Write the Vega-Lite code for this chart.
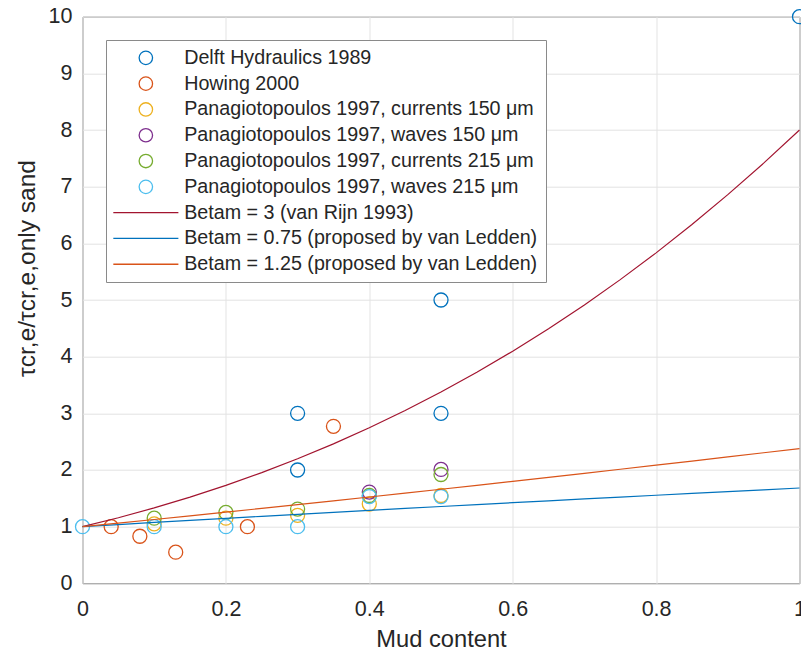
{
  "$schema": "https://vega.github.io/schema/vega-lite/v6.json",
  "autosize": "none",
  "width": 717,
  "height": 566.6,
  "padding": {"left": 82.5, "top": 16.7, "right": 1.5, "bottom": 69.7},
  "background": "white",
  "config": {
    "font": "Liberation Sans",
    "view": {"stroke": "#6e6e6e", "strokeWidth": 1},
    "axis": {
      "domain": false,
      "ticks": false,
      "grid": true,
      "gridColor": "#e3e3e3",
      "gridWidth": 1,
      "labelColor": "#262626",
      "titleColor": "#262626",
      "labelFontSize": 21.5,
      "titleFontSize": 23.7,
      "titleFontWeight": "normal",
      "labelFlush": false,
      "labelOverlap": false
    }
  },
  "datasets": {
    "pts": [
      {"x": 0.3, "y": 2, "series": "Delft Hydraulics 1989"},
      {"x": 0.3, "y": 3, "series": "Delft Hydraulics 1989"},
      {"x": 0.5, "y": 3, "series": "Delft Hydraulics 1989"},
      {"x": 0.5, "y": 5, "series": "Delft Hydraulics 1989"},
      {"x": 1.0, "y": 10, "series": "Delft Hydraulics 1989"},
      {"x": 0.04, "y": 1.0, "series": "Howing 2000"},
      {"x": 0.08, "y": 0.83, "series": "Howing 2000"},
      {"x": 0.13, "y": 0.55, "series": "Howing 2000"},
      {"x": 0.23, "y": 1.0, "series": "Howing 2000"},
      {"x": 0.35, "y": 2.77, "series": "Howing 2000"},
      {"x": 0.1, "y": 1.05, "series": "Panagiotopoulos 1997, currents 150 μm"},
      {"x": 0.2, "y": 1.15, "series": "Panagiotopoulos 1997, currents 150 μm"},
      {"x": 0.3, "y": 1.2, "series": "Panagiotopoulos 1997, currents 150 μm"},
      {"x": 0.4, "y": 1.4, "series": "Panagiotopoulos 1997, currents 150 μm"},
      {"x": 0.5, "y": 1.55, "series": "Panagiotopoulos 1997, currents 150 μm"},
      {"x": 0.4, "y": 1.61, "series": "Panagiotopoulos 1997, waves 150 μm"},
      {"x": 0.5, "y": 2.01, "series": "Panagiotopoulos 1997, waves 150 μm"},
      {"x": 0.1, "y": 1.15, "series": "Panagiotopoulos 1997, currents 215 μm"},
      {"x": 0.2, "y": 1.25, "series": "Panagiotopoulos 1997, currents 215 μm"},
      {"x": 0.3, "y": 1.31, "series": "Panagiotopoulos 1997, currents 215 μm"},
      {"x": 0.4, "y": 1.55, "series": "Panagiotopoulos 1997, currents 215 μm"},
      {"x": 0.5, "y": 1.92, "series": "Panagiotopoulos 1997, currents 215 μm"},
      {"x": 0.0, "y": 1.0, "series": "Panagiotopoulos 1997, waves 215 μm"},
      {"x": 0.1, "y": 1.0, "series": "Panagiotopoulos 1997, waves 215 μm"},
      {"x": 0.2, "y": 1.0, "series": "Panagiotopoulos 1997, waves 215 μm"},
      {"x": 0.3, "y": 1.0, "series": "Panagiotopoulos 1997, waves 215 μm"},
      {"x": 0.4, "y": 1.53, "series": "Panagiotopoulos 1997, waves 215 μm"},
      {"x": 0.5, "y": 1.53, "series": "Panagiotopoulos 1997, waves 215 μm"}
    ],
    "curves": [
      {"x": 0.0, "y": 1.0, "series": "Betam = 3 (van Rijn 1993)"},
      {"x": 0.05, "y": 1.1576, "series": "Betam = 3 (van Rijn 1993)"},
      {"x": 0.1, "y": 1.331, "series": "Betam = 3 (van Rijn 1993)"},
      {"x": 0.15, "y": 1.5209, "series": "Betam = 3 (van Rijn 1993)"},
      {"x": 0.2, "y": 1.728, "series": "Betam = 3 (van Rijn 1993)"},
      {"x": 0.25, "y": 1.9531, "series": "Betam = 3 (van Rijn 1993)"},
      {"x": 0.3, "y": 2.197, "series": "Betam = 3 (van Rijn 1993)"},
      {"x": 0.35, "y": 2.4604, "series": "Betam = 3 (van Rijn 1993)"},
      {"x": 0.4, "y": 2.744, "series": "Betam = 3 (van Rijn 1993)"},
      {"x": 0.45, "y": 3.0486, "series": "Betam = 3 (van Rijn 1993)"},
      {"x": 0.5, "y": 3.375, "series": "Betam = 3 (van Rijn 1993)"},
      {"x": 0.55, "y": 3.7239, "series": "Betam = 3 (van Rijn 1993)"},
      {"x": 0.6, "y": 4.096, "series": "Betam = 3 (van Rijn 1993)"},
      {"x": 0.65, "y": 4.4921, "series": "Betam = 3 (van Rijn 1993)"},
      {"x": 0.7, "y": 4.913, "series": "Betam = 3 (van Rijn 1993)"},
      {"x": 0.75, "y": 5.3594, "series": "Betam = 3 (van Rijn 1993)"},
      {"x": 0.8, "y": 5.832, "series": "Betam = 3 (van Rijn 1993)"},
      {"x": 0.85, "y": 6.3316, "series": "Betam = 3 (van Rijn 1993)"},
      {"x": 0.9, "y": 6.859, "series": "Betam = 3 (van Rijn 1993)"},
      {"x": 0.95, "y": 7.4149, "series": "Betam = 3 (van Rijn 1993)"},
      {"x": 1.0, "y": 8.0, "series": "Betam = 3 (van Rijn 1993)"},
      {"x": 0.0, "y": 1.0, "series": "Betam = 0.75 (proposed by van Ledden)"},
      {"x": 0.05, "y": 1.0373, "series": "Betam = 0.75 (proposed by van Ledden)"},
      {"x": 0.1, "y": 1.0741, "series": "Betam = 0.75 (proposed by van Ledden)"},
      {"x": 0.15, "y": 1.1105, "series": "Betam = 0.75 (proposed by van Ledden)"},
      {"x": 0.2, "y": 1.1465, "series": "Betam = 0.75 (proposed by van Ledden)"},
      {"x": 0.25, "y": 1.1822, "series": "Betam = 0.75 (proposed by van Ledden)"},
      {"x": 0.3, "y": 1.2175, "series": "Betam = 0.75 (proposed by van Ledden)"},
      {"x": 0.35, "y": 1.2524, "series": "Betam = 0.75 (proposed by van Ledden)"},
      {"x": 0.4, "y": 1.287, "series": "Betam = 0.75 (proposed by van Ledden)"},
      {"x": 0.45, "y": 1.3214, "series": "Betam = 0.75 (proposed by van Ledden)"},
      {"x": 0.5, "y": 1.3554, "series": "Betam = 0.75 (proposed by van Ledden)"},
      {"x": 0.55, "y": 1.3891, "series": "Betam = 0.75 (proposed by van Ledden)"},
      {"x": 0.6, "y": 1.4226, "series": "Betam = 0.75 (proposed by van Ledden)"},
      {"x": 0.65, "y": 1.4558, "series": "Betam = 0.75 (proposed by van Ledden)"},
      {"x": 0.7, "y": 1.4888, "series": "Betam = 0.75 (proposed by van Ledden)"},
      {"x": 0.75, "y": 1.5215, "series": "Betam = 0.75 (proposed by van Ledden)"},
      {"x": 0.8, "y": 1.554, "series": "Betam = 0.75 (proposed by van Ledden)"},
      {"x": 0.85, "y": 1.5863, "series": "Betam = 0.75 (proposed by van Ledden)"},
      {"x": 0.9, "y": 1.6183, "series": "Betam = 0.75 (proposed by van Ledden)"},
      {"x": 0.95, "y": 1.6501, "series": "Betam = 0.75 (proposed by van Ledden)"},
      {"x": 1.0, "y": 1.6818, "series": "Betam = 0.75 (proposed by van Ledden)"},
      {"x": 0.0, "y": 1.0, "series": "Betam = 1.25 (proposed by van Ledden)"},
      {"x": 0.05, "y": 1.0629, "series": "Betam = 1.25 (proposed by van Ledden)"},
      {"x": 0.1, "y": 1.1265, "series": "Betam = 1.25 (proposed by van Ledden)"},
      {"x": 0.15, "y": 1.1909, "series": "Betam = 1.25 (proposed by van Ledden)"},
      {"x": 0.2, "y": 1.256, "series": "Betam = 1.25 (proposed by van Ledden)"},
      {"x": 0.25, "y": 1.3217, "series": "Betam = 1.25 (proposed by van Ledden)"},
      {"x": 0.3, "y": 1.3881, "series": "Betam = 1.25 (proposed by van Ledden)"},
      {"x": 0.35, "y": 1.4552, "series": "Betam = 1.25 (proposed by van Ledden)"},
      {"x": 0.4, "y": 1.5229, "series": "Betam = 1.25 (proposed by van Ledden)"},
      {"x": 0.45, "y": 1.5911, "series": "Betam = 1.25 (proposed by van Ledden)"},
      {"x": 0.5, "y": 1.6602, "series": "Betam = 1.25 (proposed by van Ledden)"},
      {"x": 0.55, "y": 1.7296, "series": "Betam = 1.25 (proposed by van Ledden)"},
      {"x": 0.6, "y": 1.7996, "series": "Betam = 1.25 (proposed by van Ledden)"},
      {"x": 0.65, "y": 1.8702, "series": "Betam = 1.25 (proposed by van Ledden)"},
      {"x": 0.7, "y": 1.9413, "series": "Betam = 1.25 (proposed by van Ledden)"},
      {"x": 0.75, "y": 2.0129, "series": "Betam = 1.25 (proposed by van Ledden)"},
      {"x": 0.8, "y": 2.085, "series": "Betam = 1.25 (proposed by van Ledden)"},
      {"x": 0.85, "y": 2.1576, "series": "Betam = 1.25 (proposed by van Ledden)"},
      {"x": 0.9, "y": 2.2307, "series": "Betam = 1.25 (proposed by van Ledden)"},
      {"x": 0.95, "y": 2.3043, "series": "Betam = 1.25 (proposed by van Ledden)"},
      {"x": 1.0, "y": 2.3784, "series": "Betam = 1.25 (proposed by van Ledden)"}
    ]
  },
  "encoding": {
    "x": {
      "field": "x", "type": "quantitative",
      "scale": {"domain": [0, 1], "nice": false, "zero": false},
      "axis": {
        "values": [0, 0.2, 0.4, 0.6, 0.8, 1],
        "format": "~g",
        "title": "Mud content",
        "labelPadding": 15,
        "titleX": 358.5,
        "titleY": 63.5,
        "titleBaseline": "alphabetic",
        "titleAnchor": "middle"
      }
    },
    "y": {
      "field": "y", "type": "quantitative",
      "scale": {"domain": [0, 10], "nice": false, "zero": false},
      "axis": {
        "values": [0, 1, 2, 3, 4, 5, 6, 7, 8, 9, 10],
        "title": "τcr,e/τcr,e,only sand",
        "labelPadding": 10.5,
        "titleFont": "Liberation Sans",
        "titleFontSize": 24.5,
        "titleAngle": 270,
        "titleX": -48.5,
        "titleY": 251.3,
        "titleAlign": "center",
        "titleBaseline": "alphabetic"
      }
    },
    "color": {
      "field": "series", "type": "nominal",
      "scale": {
        "domain": [
          "Delft Hydraulics 1989",
          "Howing 2000",
          "Panagiotopoulos 1997, currents 150 μm",
          "Panagiotopoulos 1997, waves 150 μm",
          "Panagiotopoulos 1997, currents 215 μm",
          "Panagiotopoulos 1997, waves 215 μm",
          "Betam = 3 (van Rijn 1993)",
          "Betam = 0.75 (proposed by van Ledden)",
          "Betam = 1.25 (proposed by van Ledden)"
        ],
        "range": ["#0072BD", "#D95319", "#EDB120", "#7E2F8E", "#77AC30", "#4DBEEE", "#A2142F", "#0072BD", "#D95319"]
      },
      "legend": {
        "title": null,
        "orient": "none",
        "legendX": 23.5,
        "legendY": 23.3,
        "direction": "vertical",
        "padding": 8,
        "rowPadding": 4.8,
        "fillColor": "white",
        "strokeColor": "#8a8a8a",
        "cornerRadius": 0,
        "symbolType": "circle",
        "symbolSize": 180,
        "symbolStrokeWidth": 1.3,
        "symbolFillColor": "transparent",
        "symbolOffset": 22,
        "labelOffset": 28.5,
        "labelFontSize": 19.7,
        "labelColor": "#262626",
        "labelLimit": 0,
        "encode": {
          "symbols": {
            "update": {
              "shape": {"signal": "indexof(datum.value, 'Betam') === 0 ? 'M-4.85,0L4.85,0' : 'circle'"},
              "fill": {"value": "transparent"},
              "opacity": {"value": 1}
            }
          }
        }
      }
    }
  },
  "layer": [
    {
      "data": {"name": "pts"},
      "mark": {"type": "point", "shape": "circle", "filled": false, "size": 196, "strokeWidth": 1.3, "opacity": 1}
    },
    {
      "data": {"name": "curves"},
      "mark": {"type": "line", "strokeWidth": 1.2},
      "encoding": {"detail": {"field": "series", "type": "nominal"}}
    }
  ]
}
